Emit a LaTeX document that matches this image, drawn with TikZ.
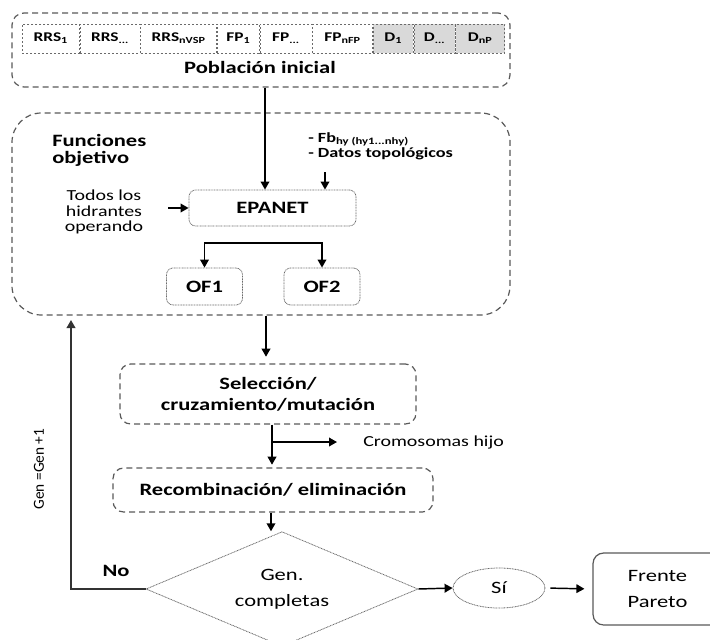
\documentclass[tikz,border=0pt]{standalone}
\usepackage{fontspec}
\setmainfont{Carlito}[FakeStretch=1.3]
\newfontfamily\rotfont{Carlito}
\usetikzlibrary{arrows.meta,shapes.geometric}
\definecolor{boxgray}{HTML}{595959}
\definecolor{dotgray}{HTML}{6A6A6A}
\definecolor{cellgray}{HTML}{D9D9D9}
\tikzset{
  dashbox/.style={draw=boxgray, line width=0.9pt, dash pattern=on 4.5pt off 3pt, rounded corners=8pt, inner sep=0pt},
  dotbox/.style={draw=dotgray, line width=0.6pt, dash pattern=on 0.7pt off 0.5pt, rounded corners=5pt, inner sep=0pt},
  cellbox/.style={draw=dotgray, line width=0.5pt, dash pattern=on 1.5pt off 1.5pt, minimum height=21.75pt, inner sep=0pt, anchor=west, font=\fontsize{10}{12}\selectfont\bfseries},
  arr/.style={-{Triangle[length=6pt,width=6.5pt]}, line width=1.1pt, black},
  darr/.style={{Triangle[length=6pt,width=6.5pt]}-{Triangle[length=6pt,width=6.5pt]}, line width=1.1pt, black},
  blbl/.style={font=\fontsize{13}{13}\selectfont\bfseries, inner sep=0pt, align=center},
  rlbl/.style={font=\fontsize{13}{19.5}\selectfont, inner sep=0pt, align=center},
}
\begin{document}
\begin{tikzpicture}[x=0.75pt, y=-0.75pt]
\useasboundingbox (0,0) rectangle (710,639);
% Poblacion inicial
\node[dashbox, rounded corners=9pt, minimum width=373.5pt, minimum height=55.5pt] (pob) at (261,50) {};
\node[cellbox, minimum width=42.75pt] (c1) at (22,38.5) {RRS\textsubscript{1}};
\node[cellbox, minimum width=45pt] (c2) at (c1.east) {RRS\textsubscript{...}};
\node[cellbox, minimum width=57pt] (c3) at (c2.east) {RRS\textsubscript{nVSP}};
\node[cellbox, minimum width=31.5pt] (c4) at (c3.east) {FP\textsubscript{1}};
\node[cellbox, minimum width=39pt] (c5) at (c4.east) {FP\textsubscript{...}};
\node[cellbox, minimum width=45pt] (c6) at (c5.east) {FP\textsubscript{nFP}};
\node[cellbox, fill=cellgray, minimum width=30pt] (c7) at (c6.east) {D\textsubscript{1}};
\node[cellbox, fill=cellgray, minimum width=30.75pt] (c8) at (c7.east) {D\textsubscript{...}};
\node[cellbox, fill=cellgray, minimum width=36.75pt] (c9) at (c8.east) {D\textsubscript{nP}};
\node[blbl] (pobt) at (260,67) {Población inicial};
% Funciones objetivo
\node[dashbox, rounded corners=22pt, minimum width=373.5pt, minimum height=151.5pt] (fun) at (261,214) {};
\node[blbl, anchor=west, align=left, font=\fontsize{13}{12.8}\selectfont\bfseries] (funt) at (52,150) {Funciones\\objetivo};
\node[inner sep=0pt, anchor=west, align=left, font=\fontsize{10.5}{11.25}\selectfont\bfseries] (fb) at (308,146) {- Fb\textsubscript{hy (hy1...nhy)}\\- Datos topológicos};
\node[inner sep=0pt, align=center, font=\fontsize{11.5}{11.6}\selectfont] (todos) at (104,212) {Todos los\\hidrantes\\operando};
\node[dotbox, minimum width=125.25pt, minimum height=27pt, blbl] (ep) at (272.5,208) {EPANET};
\node[dotbox, minimum width=57pt, minimum height=27.75pt, blbl] (of1) at (204.5,286.5) {OF1};
\node[dotbox, minimum width=57pt, minimum height=27.75pt, blbl] (of2) at (322,286.5) {OF2};
% Seleccion / Recombinacion
\node[dashbox, minimum width=222pt, minimum height=45pt, blbl, font=\fontsize{13}{15.75}\selectfont\bfseries] (sel) at (268,394) {Selección/\\cruzamiento/mutación};
\node[dashbox, minimum width=240pt, minimum height=33pt, blbl] (rec) at (273,490) {Recombinación/ eliminación};
\node[inner sep=0pt, anchor=west, font=\fontsize{11.5}{13}\selectfont] (crom) at (363,442) {Cromosomas hijo};
% Decision
\node[diamond, aspect=2.43, draw=dotgray, line width=0.6pt, dash pattern=on 0.7pt off 0.5pt, minimum width=204pt, minimum height=86pt, inner sep=0pt, rlbl] (dia) at (282,589) {Gen.\\completas};
\node[ellipse, draw=dotgray, line width=0.6pt, dash pattern=on 0.7pt off 0.5pt, minimum width=69pt, minimum height=30pt, inner sep=0pt, rlbl] (si) at (499,588) {Sí};
\node[draw=boxgray, line width=0.9pt, rounded corners=8pt, minimum width=96.75pt, minimum height=54pt, inner sep=0pt, rlbl] (fp) at (657.5,589) {Frente\\Pareto};
\node[blbl] (no) at (116,571) {No};
\node[inner sep=0pt, rotate=90, font=\rotfont\fontsize{11.5}{13}\selectfont] (gen) at (39,469) {Gen =Gen +1};
% coordinates
\coordinate (xa) at (265,0);
\coordinate (xb) at (325,172);
\coordinate (xt) at (168,0);
\coordinate (yb) at (0,243);
\coordinate (xs) at (266,0);
\coordinate (xr) at (272,0);
\coordinate (cb) at (272,442);
\coordinate (ce) at (337,442);
\coordinate (xd) at (271,0);
\coordinate (lp) at (71,320);
% connectors
\draw[arr] (pob.south -| xa) -- (ep.north -| xa);
\draw[arr] (xb) -- (ep.north -| xb);
\draw[arr] (ep.west -| xt) -- (ep.west);
\draw[darr] (of1.north) -- (of1.north |- yb) -| (of2.north);
\draw[arr, shorten >=5pt] (fun.south -| xs) -- (sel.north -| xs);
\draw[arr, shorten >=2pt] (sel.south -| xr) -- (rec.north -| xr);
\draw[arr] (cb) -- (ce);
\draw[arr] (rec.south -| xd) -- (dia.north -| xd);
\draw[arr] (dia.east) -- (si.west);
\draw[arr, shorten <=3.75pt, shorten >=6pt] (si.east) -- (fp.west);
\draw[arr, draw=black!80] (dia.west) -| (lp);
\end{tikzpicture}
\end{document}
